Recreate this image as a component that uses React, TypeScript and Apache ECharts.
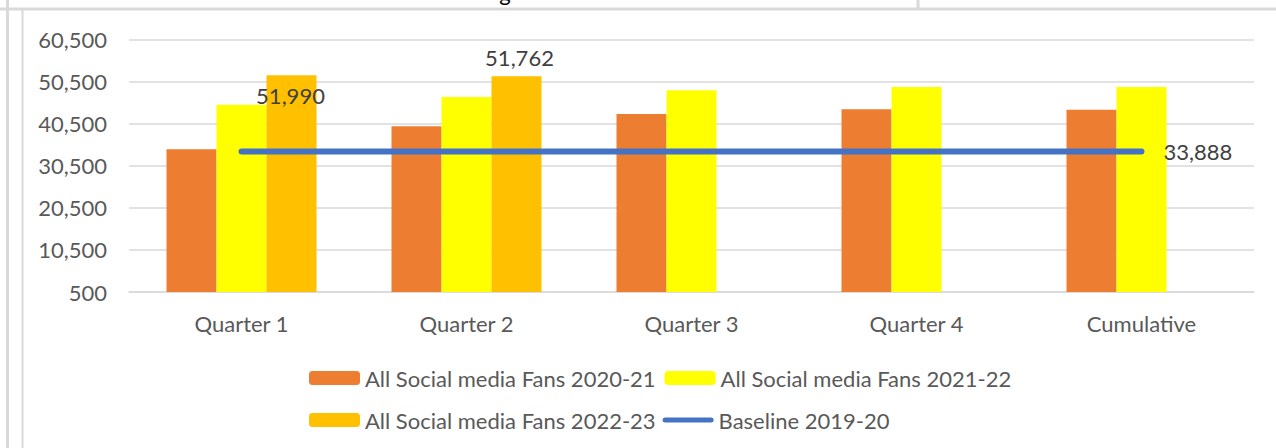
import React, { useEffect, useRef } from "react";
import * as echarts from "echarts";

const categories = ["Quarter 1", "Quarter 2", "Quarter 3", "Quarter 4", "Cumulative"];
const fans2021 = [34400, 39860, 42810, 43900, 43830];
const fans2122 = [45020, 46860, 48430, 49230, 49230];
const fans2223 = [51990, 51762, null, null, null];
const baseline = [33888, 33888, 33888, 33888, 33888];
const seriesNames = [
  "All Social media Fans 2020-21",
  "All Social media Fans 2021-22",
  "All Social media Fans 2022-23",
  "Baseline 2019-20",
];
const yMin = 500;
const yMax = 60500;
const yStep = 10000;

const FONT = "Lato";
const GREY = "#595959";
const FS = 22;

export default function App() {
  const ref = useRef<HTMLDivElement>(null);
  useEffect(() => {
    if (!ref.current) return;
    const chart = echarts.init(ref.current, null, { renderer: "svg" });
    const fmt = (v: number) => v.toLocaleString("en-US");
    const legendText = { color: GREY, fontFamily: FONT, fontSize: FS, lineHeight: 24 };
    const capsule = "path://M2.5,0 H48.5 A2.5,2.5 0 0 1 48.5,5 H2.5 A2.5,2.5 0 0 1 2.5,0 Z";
    chart.setOption({
      animation: false,
      backgroundColor: "#ffffff",
      textStyle: { fontFamily: FONT },
      grid: { left: 129, right: 22, top: 39.5, bottom: 156 },
      xAxis: {
        type: "category",
        data: categories,
        axisTick: { show: false },
        axisLine: { show: true, lineStyle: { color: "#D9D9D9", width: 1.5 } },
        axisLabel: { color: GREY, fontFamily: FONT, fontSize: FS, margin: 20 },
      },
      yAxis: {
        type: "value",
        min: yMin,
        max: yMax,
        interval: yStep,
        axisLine: { show: false },
        axisTick: { show: false },
        splitLine: { lineStyle: { color: "#D9D9D9", width: 1.5 } },
        axisLabel: { color: GREY, fontFamily: FONT, fontSize: FS, margin: 22, formatter: (v: number) => fmt(v) },
      },
      legend: [
        {
          data: [seriesNames[0], seriesNames[1]],
          left: 309,
          top: 366,
          padding: 0,
          itemWidth: 51,
          itemHeight: 14,
          itemGap: 9,
          textStyle: legendText,
        },
        {
          data: [seriesNames[2], { name: seriesNames[3], icon: capsule }],
          left: 309,
          top: 408,
          padding: 0,
          itemWidth: 51,
          itemHeight: 14,
          itemGap: 7,
          symbolKeepAspect: true,
          textStyle: legendText,
        },
      ],
      graphic: [
        { type: "line", shape: { x1: 0, y1: 9, x2: 1276, y2: 9 }, style: { stroke: "#D9D9D9", lineWidth: 3 } },
        { type: "line", shape: { x1: 918, y1: 0, x2: 918, y2: 9 }, style: { stroke: "#D9D9D9", lineWidth: 3 } },
        { type: "line", shape: { x1: 7.5, y1: 0, x2: 7.5, y2: 448 }, style: { stroke: "#D9D9D9", lineWidth: 3 } },
        { type: "line", shape: { x1: 22.5, y1: 10, x2: 22.5, y2: 448 }, style: { stroke: "#D9D9D9", lineWidth: 2 } },
        {
          type: "text",
          x: 505,
          y: 3,
          style: { text: "g", fill: "#000", font: "22px Lato", align: "center", verticalAlign: "bottom" },
        },
      ],
      series: [
        {
          name: seriesNames[0],
          type: "bar",
          data: fans2021,
          barWidth: 50,
          barGap: "0%",
          itemStyle: { color: "#ED7D31" },
        },
        {
          name: seriesNames[1],
          type: "bar",
          data: fans2122,
          barWidth: 50,
          barGap: "0%",
          itemStyle: { color: "#FFFF00" },
        },
        {
          name: seriesNames[2],
          type: "bar",
          data: fans2223.map((v, i) => ({
            value: v,
            label: {
              show: v !== null,
              position: i === 0 ? "insideTop" : "top",
              distance: i === 0 ? 8 : 7,
              offset: i === 0 ? [-1, 0] : [3, 0],
              color: "#404040",
              fontFamily: FONT,
              fontSize: FS,
              lineHeight: 24,
              formatter: (p: any) => fmt(p.value),
            },
          })),
          barWidth: 50,
          barGap: "0%",
          itemStyle: { color: "#FFC000" },
        },
        {
          name: seriesNames[3],
          type: "line",
          data: baseline,
          symbol: "none",
          showSymbol: false,
          lineStyle: { color: "#4472C4", width: 6, cap: "round" },
          itemStyle: { color: "#4472C4" },
          endLabel: {
            show: true,
            distance: 22,
            color: "#404040",
            fontFamily: FONT,
            fontSize: FS,
            lineHeight: 24,
            formatter: (p: any) => fmt(p.value),
          },
          z: 5,
        },
      ],
    });
    return () => chart.dispose();
  }, []);
  return (
    <div
      ref={ref}
      style={{ position: "fixed", left: 0, top: 0, width: 1276, height: 448, background: "#fff" }}
    />
  );
}
